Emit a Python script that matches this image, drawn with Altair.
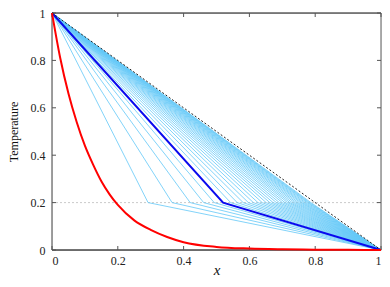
import altair as alt
import pandas as pd

# ---- data ----
tick_vals = [0, 0.2, 0.4, 0.6, 0.8, 1]

red_x = [0, 0.025, 0.05, 0.075, 0.1, 0.125, 0.15, 0.175, 0.2, 0.25, 0.3, 0.35, 0.4, 0.5, 0.6, 0.7, 0.8, 0.9, 1.0]
red_y = [1, 0.81, 0.66, 0.54, 0.44, 0.36, 0.29, 0.235, 0.19, 0.125, 0.085, 0.055, 0.033, 0.013, 0.006, 0.003, 0.0015, 0.0007, 0.0]

light_kinks = [0.292, 0.365, 0.42, 0.461, 0.493, 0.543, 0.563, 0.581, 0.597, 0.612,
               0.626, 0.639, 0.651, 0.662, 0.672, 0.682, 0.691, 0.700, 0.708, 0.716,
               0.723, 0.730, 0.737, 0.743, 0.749, 0.755, 0.760, 0.765, 0.770, 0.775,
               0.779, 0.783, 0.787]
blue_kink = 0.52
kink_level = 0.2
start_pt = (0, 1)
end_pt = (1, 0)

W, H = 329, 237

rows = []
for i, k in enumerate(light_kinks):
    rows += [{"id": i, "x": start_pt[0], "y": start_pt[1]},
             {"id": i, "x": k, "y": kink_level},
             {"id": i, "x": end_pt[0], "y": end_pt[1]}]
light_df = pd.DataFrame(rows)
blue_df = pd.DataFrame({"x": [start_pt[0], blue_kink, end_pt[0]], "y": [start_pt[1], kink_level, end_pt[1]]})
red_df = pd.DataFrame({"x": red_x, "y": red_y})
diag_df = pd.DataFrame({"x": [start_pt[0], end_pt[0]], "y": [start_pt[1], end_pt[1]]})
hline_df = pd.DataFrame({"x": [0, 1], "y": [kink_level, kink_level]})
ticks_df = pd.DataFrame({"t": tick_vals})
one = pd.DataFrame({"a": [0]})

xs = alt.Scale(domain=[0, 1], nice=False, zero=False)
ys = alt.Scale(domain=[0, 1], nice=False, zero=False)

serif = "Liberation Serif"

X = alt.X("x:Q", scale=xs, axis=alt.Axis(values=tick_vals, format="~g", title="x",
                                          titleFontStyle="italic", titleFontWeight="normal",
                                          titleFontSize=15, titleFont=serif, titlePadding=-4,
                                          labelFont=serif, labelFontSize=12, labelPadding=5,
                                          labelColor="#222", titleColor="#111",
                                          ticks=False, domain=False, grid=False))
Y = alt.Y("y:Q", scale=ys, axis=alt.Axis(values=tick_vals, format="~g", title="Temperature",
                                          titleFontWeight="normal", titleFontSize=12,
                                          titleFont=serif, titlePadding=10,
                                          labelFont=serif, labelFontSize=12, labelPadding=7,
                                          labelColor="#222", titleColor="#111",
                                          ticks=False, domain=False, grid=False))

hline = alt.Chart(hline_df).mark_line(color="#bbbbbb", strokeWidth=0.8, strokeDash=[2, 2]).encode(x=X, y=Y)
light = alt.Chart(light_df).mark_line(color="#62c8f8", strokeWidth=0.8).encode(
    x=alt.X("x:Q", scale=xs), y=alt.Y("y:Q", scale=ys), detail="id:N", order="x:Q")
blue = alt.Chart(blue_df).mark_line(color="#0a0aee", strokeWidth=2).encode(
    x=alt.X("x:Q", scale=xs), y=alt.Y("y:Q", scale=ys))
diag = alt.Chart(diag_df).mark_line(color="#222222", strokeWidth=1, strokeDash=[2, 2]).encode(
    x=alt.X("x:Q", scale=xs), y=alt.Y("y:Q", scale=ys))
red = alt.Chart(red_df).mark_line(color="#ff0000", strokeWidth=2, interpolate="monotone").encode(
    x=alt.X("x:Q", scale=xs), y=alt.Y("y:Q", scale=ys))

tick_len = 4
tx_bot = alt.Chart(ticks_df).mark_rule(color="#555", strokeWidth=1).encode(
    x=alt.X("t:Q", scale=xs), y=alt.value(H), y2=alt.value(H - tick_len))
tx_top = alt.Chart(ticks_df).mark_rule(color="#555", strokeWidth=1).encode(
    x=alt.X("t:Q", scale=xs), y=alt.value(0), y2=alt.value(tick_len))
ty_left = alt.Chart(ticks_df).mark_rule(color="#555", strokeWidth=1).encode(
    y=alt.Y("t:Q", scale=ys), x=alt.value(0), x2=alt.value(tick_len))
ty_right = alt.Chart(ticks_df).mark_rule(color="#555", strokeWidth=1).encode(
    y=alt.Y("t:Q", scale=ys), x=alt.value(W), x2=alt.value(W - tick_len))

b_left = alt.Chart(one).mark_rule(color="#888", strokeWidth=1.6).encode(
    x=alt.value(0), y=alt.value(0), y2=alt.value(H))
b_right = alt.Chart(one).mark_rule(color="#999", strokeWidth=1.6).encode(
    x=alt.value(W), y=alt.value(0), y2=alt.value(H))
b_top = alt.Chart(one).mark_rule(color="#111", strokeWidth=1).encode(
    y=alt.value(0), x=alt.value(0), x2=alt.value(W))
b_bot = alt.Chart(one).mark_rule(color="#444", strokeWidth=1.5).encode(
    y=alt.value(H), x=alt.value(0), x2=alt.value(W))

chart = alt.layer(hline, light, blue, diag, b_left, b_right, b_top, b_bot,
                  tx_bot, tx_top, ty_left, ty_right, red).properties(
    width=W, height=H,
    padding={"left": 44, "top": 5, "right": 1, "bottom": 29},
    autosize=alt.AutoSizeParams(type="none"),
).configure_view(stroke=None).configure(background="white")

chart.save("out.html", embed_options={"renderer": "svg", "actions": False})
